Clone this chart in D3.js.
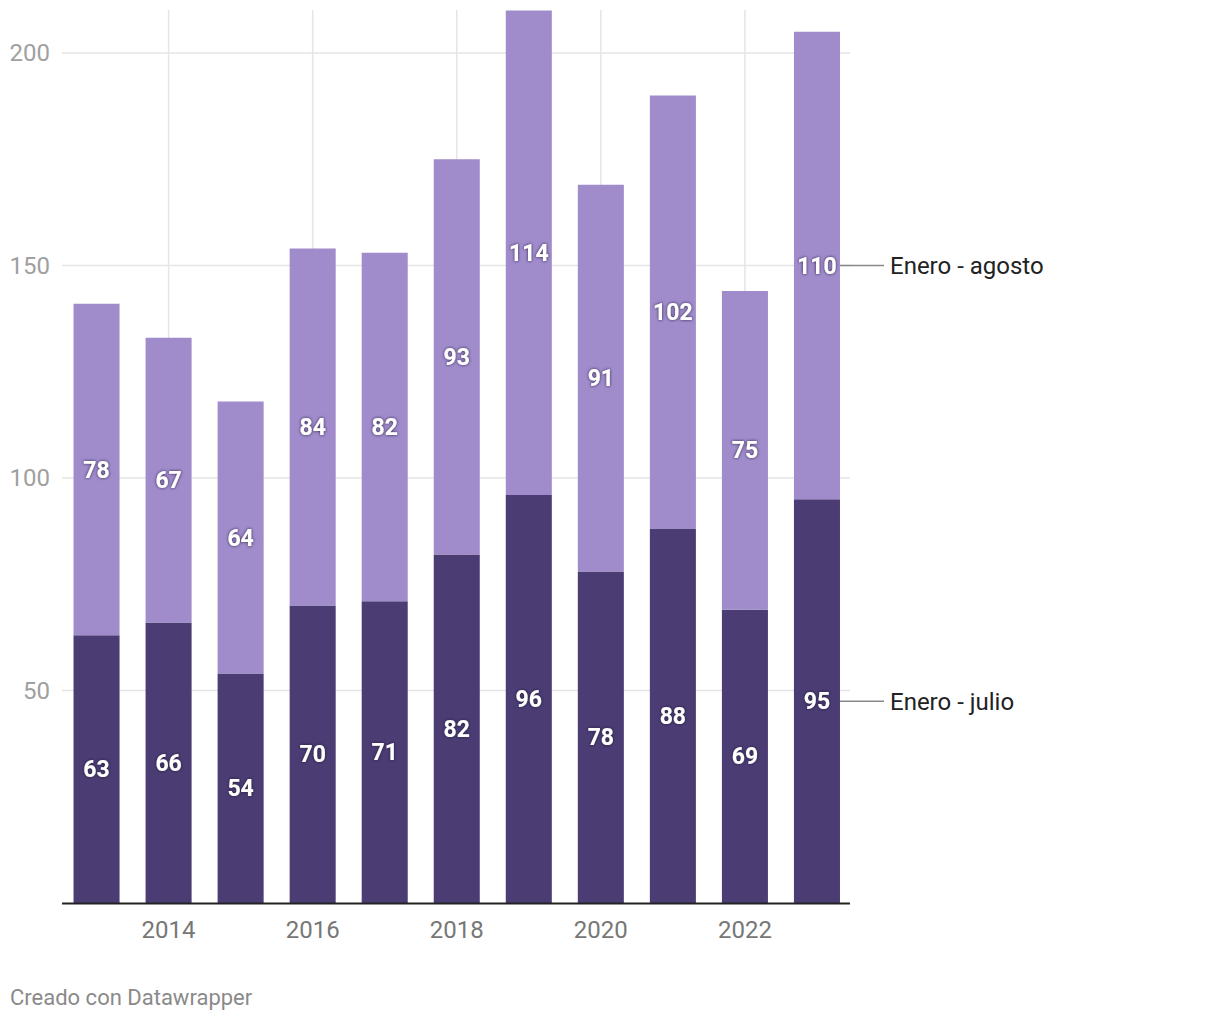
<!DOCTYPE html>
<html><head><meta charset="utf-8">
<script src="https://cdn.jsdelivr.net/npm/d3@7"></script>
<style>body{margin:0;background:#fff;font-family:Roboto,sans-serif;}</style>
</head><body>
<svg id="c" width="1220" height="1020"></svg>
<script>
const years = [2013,2014,2015,2016,2017,2018,2019,2020,2021,2022,2023];
const julio = [63,66,54,70,71,82,96,78,88,69,95];
const agosto = [78,67,64,84,82,93,114,91,102,75,110];
const seriesNames = ["Enero - julio","Enero - agosto"];
const colors = ["#4b3d74","#a08bcb"];
const yTicks = [50,100,150,200];
const xTicks = [2014,2016,2018,2020,2022];

const svg = d3.select("#c");
const defs = svg.append("defs");
const f = defs.append("filter").attr("id","halo").attr("x","-20%").attr("y","-30%").attr("width","140%").attr("height","160%");
f.append("feDropShadow").attr("dx",0).attr("dy",0).attr("stdDeviation",1.6).attr("flood-color","#1a1230").attr("flood-opacity",0.9);

const x = d3.scaleBand().domain(years).range([62.5,851]).paddingInner(0.361).paddingOuter(0.153);
const y = d3.scaleLinear().domain([0,200]).range([903,53]);
const plotTop = 10;

// grid
svg.append("g").selectAll("line").data(yTicks).join("line")
  .attr("x1",62).attr("x2",850).attr("y1",d=>y(d)).attr("y2",d=>y(d))
  .attr("stroke","#e5e5e5").attr("stroke-width",1.5);
svg.append("g").selectAll("line").data(xTicks).join("line")
  .attr("x1",d=>x(d)+x.bandwidth()/2).attr("x2",d=>x(d)+x.bandwidth()/2)
  .attr("y1",plotTop).attr("y2",903).attr("stroke","#e5e5e5").attr("stroke-width",1.5);

// y labels
svg.append("g").selectAll("text").data(yTicks).join("text")
  .attr("x",50).attr("y",d=>y(d)).attr("dy","0.35em").attr("text-anchor","end")
  .attr("fill","#a0a0a0").attr("font-size",24).text(d=>d);

const data = years.map((yr,i)=>({yr, a:julio[i], b:agosto[i]}));
const stack = d3.stack().keys(["a","b"])(data);

defs.append("clipPath").attr("id","clip").append("rect")
  .attr("x",0).attr("y",plotTop).attr("width",1220).attr("height",903-plotTop);

const bars = svg.append("g").attr("clip-path","url(#clip)");
stack.forEach((s,si)=>{
  bars.append("g").selectAll("rect").data(s).join("rect")
    .attr("x",d=>x(d.data.yr)).attr("width",x.bandwidth())
    .attr("y",d=>y(d[1])).attr("height",d=>y(d[0])-y(d[1]))
    .attr("fill",colors[si]);
});

// axis line
svg.append("line").attr("x1",62).attr("x2",850).attr("y1",903.5).attr("y2",903.5)
  .attr("stroke","#222").attr("stroke-width",2);

// x labels
svg.append("g").selectAll("text").data(xTicks).join("text")
  .attr("x",d=>x(d)+x.bandwidth()/2).attr("y",930).attr("dy","0.35em").attr("text-anchor","middle")
  .attr("fill","#777").attr("font-size",24).text(d=>d);

// value labels
stack.forEach((s,si)=>{
  svg.append("g").selectAll("text").data(s).join("text")
    .attr("x",d=>x(d.data.yr)+x.bandwidth()/2).attr("y",d=>y((d[0]+d[1])/2))
    .attr("dy","0.35em").attr("text-anchor","middle")
    .attr("fill","#fff").attr("font-weight","bold").attr("font-size",23)
    .attr("filter","url(#halo)")
    .text(d=>d[1]-d[0]);
});

// legend labels
const last = data[data.length-1];
const lx = x(last.yr)+x.bandwidth();
const legendPos = [ (0+last.a)/2, last.a + last.b/2 ];
seriesNames.forEach((n,i)=>{
  const yy = y(legendPos[i]);
  svg.append("line").attr("x1",lx).attr("x2",884).attr("y1",yy).attr("y2",yy)
    .attr("stroke","#888").attr("stroke-width",1.5);
  svg.append("text").attr("x",890).attr("y",yy).attr("dy","0.35em")
    .attr("fill","#222").attr("font-size",24).text(n);
});

svg.append("text").attr("x",10).attr("y",997).attr("dy","0.35em")
  .attr("fill","#8a8a8a").attr("font-size",22).text("Creado con Datawrapper");
</script>
</body></html>
